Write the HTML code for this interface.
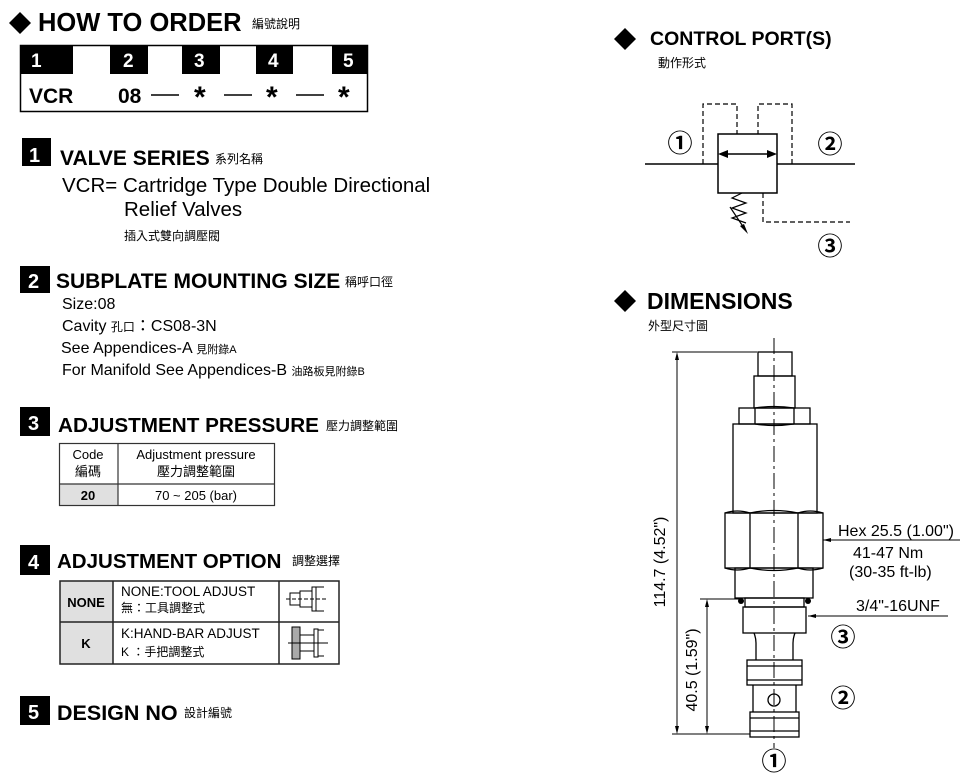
<!DOCTYPE html>
<html><head><meta charset="utf-8"><style>
html,body{margin:0;padding:0;background:#fff;}
svg{display:block;font-family:"Liberation Sans","Noto Sans CJK TC",sans-serif;}
.b{font-weight:bold;}
</style></head><body>
<svg width="980" height="776" viewBox="0 0 980 776" xmlns="http://www.w3.org/2000/svg">
<!-- HOW TO ORDER -->
<polygon points="20,12 31,23 20,34 9,23" fill="#000"/>
<text x="38" y="31" class="b" font-size="25.5">HOW TO  ORDER</text>
<text x="252" y="28" font-size="12">編號說明</text>
<rect x="20.5" y="45.5" width="347" height="66" fill="#fff" stroke="#000" stroke-width="1.5"/>
<rect x="20" y="45" width="53" height="29" fill="#000"/>
<rect x="110" y="45" width="38" height="29" fill="#000"/>
<rect x="182" y="45" width="38" height="29" fill="#000"/>
<rect x="256" y="45" width="37" height="29" fill="#000"/>
<rect x="332" y="45" width="36" height="29" fill="#000"/>
<g fill="#fff" class="b" font-size="19">
<text x="31" y="67">1</text><text x="123" y="67">2</text><text x="194" y="67">3</text><text x="268" y="67">4</text><text x="343" y="67">5</text></g>
<g class="b" font-size="21"><text x="29" y="103">VCR</text><text x="118" y="103">08</text>
<text x="194" y="107" font-size="30">*</text><text x="266" y="107" font-size="30">*</text><text x="338" y="107" font-size="30">*</text></g>
<g stroke="#000" stroke-width="1.5"><line x1="151" y1="95" x2="179" y2="95"/><line x1="224" y1="95" x2="252" y2="95"/><line x1="296" y1="95" x2="324" y2="95"/></g>

<!-- 1 -->
<rect x="22" y="138" width="29" height="28" fill="#000"/>
<text x="29" y="162" fill="#fff" class="b" font-size="20">1</text>
<text x="60" y="165" class="b" font-size="21">VALVE SERIES</text>
<text x="215" y="163" font-size="12">系列名稱</text>
<text x="62" y="192" font-size="20.5">VCR= Cartridge Type Double Directional</text>
<text x="124" y="216" font-size="20.5">Relief  Valves</text>
<text x="124" y="240" font-size="12">插入式雙向調壓閥</text>

<!-- 2 -->
<rect x="20" y="266" width="30" height="27" fill="#000"/>
<text x="28" y="288" fill="#fff" class="b" font-size="20">2</text>
<text x="56" y="288" class="b" font-size="21">SUBPLATE MOUNTING SIZE</text>
<text x="345" y="286" font-size="12">稱呼口徑</text>
<g font-size="16">
<text x="62" y="309">Size:08</text>
<text x="62" y="331">Cavity <tspan font-size="12">孔口</tspan>：CS08-3N</text>
<text x="61" y="353">See Appendices-A <tspan font-size="11">見附錄A</tspan></text>
<text x="62" y="375">For Manifold See Appendices-B <tspan font-size="11">油路板見附錄B</tspan></text>
</g>

<!-- 3 -->
<rect x="20" y="407" width="30" height="29" fill="#000"/>
<text x="28" y="430" fill="#fff" class="b" font-size="20">3</text>
<text x="58" y="432" class="b" font-size="20.7">ADJUSTMENT PRESSURE</text>
<text x="326" y="430" font-size="12">壓力調整範圍</text>
<rect x="59" y="484" width="59" height="21" fill="#e0e0e0"/>
<rect x="59.5" y="443.5" width="215" height="62" fill="none" stroke="#333" stroke-width="1.2"/>
<line x1="59" y1="484" x2="275" y2="484" stroke="#333" stroke-width="1.2"/>
<line x1="118" y1="443" x2="118" y2="506" stroke="#333" stroke-width="1.2"/>
<g font-size="13" text-anchor="middle"><text x="88" y="459">Code</text><text x="88" y="476">編碼</text>
<text x="196" y="459">Adjustment pressure</text><text x="196" y="476">壓力調整範圍</text>
<text x="88" y="500" class="b">20</text><text x="196" y="500">70 ~ 205 (bar)</text></g>

<!-- 4 -->
<rect x="20" y="545" width="30" height="30" fill="#000"/>
<text x="28" y="569" fill="#fff" class="b" font-size="20">4</text>
<text x="57" y="568" class="b" font-size="20.5">ADJUSTMENT OPTION</text>
<text x="292" y="565" font-size="12">調整選擇</text>
<rect x="60" y="581" width="53" height="83" fill="#e0e0e0"/>
<rect x="60" y="581" width="279" height="83" fill="none" stroke="#222" stroke-width="1.5"/>
<line x1="60" y1="622" x2="339" y2="622" stroke="#222" stroke-width="1.5"/>
<line x1="113" y1="581" x2="113" y2="664" stroke="#222" stroke-width="1.5"/>
<line x1="279" y1="581" x2="279" y2="664" stroke="#222" stroke-width="1.5"/>
<text x="86" y="607" class="b" font-size="13" text-anchor="middle">NONE</text>
<text x="86" y="648" class="b" font-size="13" text-anchor="middle">K</text>
<g font-size="13.5"><text x="121" y="596">NONE:TOOL ADJUST</text><text x="121" y="612" font-size="12">無：工具調整式</text>
<text x="121" y="638">K:HAND-BAR ADJUST</text><text x="121" y="656" font-size="12">K ：手把調整式</text></g>
<g stroke="#000" stroke-width="1" fill="none">
<rect x="290" y="593" width="10" height="12"/><rect x="300" y="591" width="12" height="16"/>
<path d="M312,587 l4,0 l0,24 l-4,0z M316,587 h8 M316,611 h8"/>
<line x1="286" y1="599" x2="328" y2="599" stroke-dasharray="4,2"/>
<rect x="292" y="627" width="8" height="32" fill="#aaa"/>
<rect x="300" y="635" width="14" height="16"/>
<path d="M314,629 h4 v28 h-4z M318,630 h6 M318,656 h6"/>
<line x1="288" y1="643" x2="328" y2="643"/>
</g>

<!-- 5 -->
<rect x="20" y="696" width="30" height="29" fill="#000"/>
<text x="28" y="719" fill="#fff" class="b" font-size="20">5</text>
<text x="57" y="720" class="b" font-size="21.5">DESIGN NO</text>
<text x="184" y="717" font-size="12">設計編號</text>

<!-- CONTROL PORTS -->
<polygon points="625,28 636,39 625,50 614,39" fill="#000"/>
<text x="650" y="45" class="b" font-size="19.5">CONTROL PORT(S)</text>
<text x="658" y="67" font-size="12">動作形式</text>
<g stroke="#000" stroke-width="1.5" fill="none">
<line x1="645" y1="164" x2="718" y2="164"/><line x1="777" y1="164" x2="855" y2="164"/>
<rect x="718" y="134" width="59" height="59"/>
<line x1="726" y1="154" x2="769" y2="154"/>
<path d="M703,164 V104 H737 V134 M792,164 V104 H758 V134 M763,193 V222 H850" stroke-dasharray="5,3" stroke-width="1.2"/>
<path d="M742,193 l-10,5 l14,5 l-14,5 l14,5 l-14,5 l14,5" stroke-width="1.2"/>
<line x1="730" y1="207" x2="746" y2="231" stroke-width="1.2"/>
</g>
<polygon points="718,154 728,150 728,158" fill="#000"/><polygon points="777,154 767,150 767,158" fill="#000"/>
<polygon points="748,234 740,226 744,224" fill="#000"/>
<g font-size="25" text-anchor="middle" class="b"><text x="680" y="152">①</text><text x="830" y="153">②</text><text x="830" y="255">③</text></g>

<!-- DIMENSIONS -->
<polygon points="625,290 636,301 625,312 614,301" fill="#000"/>
<text x="647" y="309" class="b" font-size="23">DIMENSIONS</text>
<text x="648" y="330" font-size="12">外型尺寸圖</text>
<g stroke="#000" stroke-width="1.3" fill="none">
<rect x="758" y="352" width="34" height="24"/>
<rect x="754" y="376" width="41" height="32"/>
<rect x="739" y="408" width="71" height="16"/>
<path d="M755,408 q19,-3 39,0 M755,424 q19,3 39,0 M755,408 v16 M794,408 v16"/>
<rect x="733" y="424" width="84" height="89"/>
<rect x="725" y="513" width="98" height="55"/>
<path d="M750,513 v55 M798,513 v55 M750,513 q24,-5 48,0 M750,568 q24,5 48,0 M725,513 q12,-4 25,0 M798,513 q12,-4 25,0 M725,568 q12,4 25,0 M798,568 q12,4 25,0"/>
<rect x="735" y="568" width="78" height="30"/>
<rect x="745" y="598" width="59" height="9"/>
<rect x="743" y="607" width="63" height="26"/>
<path d="M754,633 q2,5 2,10 v17 M795,633 q-2,5 -2,10 v17"/>
<rect x="747" y="660" width="55" height="25"/><line x1="747" y1="666" x2="802" y2="666"/><line x1="747" y1="680" x2="802" y2="680"/>
<path d="M753,685 v27 M796,685 v27"/>
<rect x="750" y="712" width="49" height="25"/><line x1="750" y1="718" x2="799" y2="718"/><line x1="750" y1="731" x2="799" y2="731"/>
<circle cx="774" cy="700" r="6"/>
</g>
<g fill="#000"><circle cx="741" cy="601" r="3"/><circle cx="808" cy="601" r="3"/></g>
<line x1="774" y1="338" x2="774" y2="748" stroke="#000" stroke-width="1" stroke-dasharray="16,4,3,4"/>
<g stroke="#000" stroke-width="1" fill="none">
<line x1="672" y1="352" x2="757" y2="352"/><line x1="672" y1="734" x2="750" y2="734"/>
<line x1="677" y1="354" x2="677" y2="732"/>
<line x1="700" y1="599" x2="740" y2="599"/><line x1="707" y1="601" x2="707" y2="732"/>
<line x1="823" y1="540" x2="960" y2="540"/><line x1="808" y1="616" x2="948" y2="616"/>
</g>
<g fill="#000"><polygon points="677,352 675,360 679,360"/><polygon points="677,734 675,726 679,726"/>
<polygon points="707,599 705,607 709,607"/><polygon points="707,734 705,726 709,726"/>
<polygon points="823,540 831,538 831,542"/><polygon points="808,616 816,614 816,618"/></g>
<text transform="translate(665,562) rotate(-90)" font-size="16" text-anchor="middle">114.7 (4.52")</text>
<text transform="translate(697,670) rotate(-90)" font-size="16" text-anchor="middle">40.5 (1.59")</text>
<g font-size="16"><text x="838" y="536">Hex 25.5  (1.00")</text><text x="853" y="558">41-47 Nm</text><text x="849" y="577">(30-35 ft-lb)</text>
<text x="856" y="611">3/4"-16UNF</text></g>
<g font-size="25" text-anchor="middle" class="b"><text x="843" y="646">③</text><text x="843" y="707">②</text><text x="774" y="770">①</text></g>
</svg>
</body></html>
